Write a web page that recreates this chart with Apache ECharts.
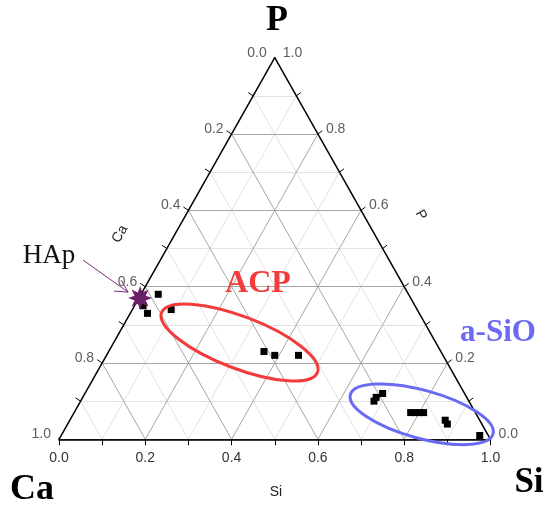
<!DOCTYPE html>
<html>
<head>
<meta charset="UTF-8">
<title></title>
<script src="https://cdn.jsdelivr.net/npm/echarts@6/dist/echarts.min.js"></script>
<style>
html,body{margin:0;padding:0;background:#fff;}
#main{width:547px;height:505px;}
</style>
</head>
<body>
<div id="main"></div>
<script>
// composition of the samples (fractions, Ca + P + Si = 1)
var siVals = [0.04, 0.02, 0.04, 0.09, 0.36, 0.39, 0.445, 0.68, 0.68, 0.69, 0.78, 0.79, 0.80, 0.81, 0.87, 0.88, 0.97];
var pVals  = [0.38, 0.35, 0.33, 0.34, 0.23, 0.22, 0.22, 0.10, 0.11, 0.12, 0.07, 0.07, 0.07, 0.07, 0.05, 0.04, 0.01];
var caVals = [0.58, 0.63, 0.63, 0.57, 0.41, 0.39, 0.335, 0.22, 0.21, 0.19, 0.15, 0.14, 0.13, 0.12, 0.08, 0.08, 0.02];
// hydroxyapatite reference point
var hapSi = [0.003];
var hapP = [0.37];
var hapCa = [0.627];
// ticks and grid
var labelTicks = [0, 0.2, 0.4, 0.6, 0.8, 1.0];
var allTicks = [0, 0.1, 0.2, 0.3, 0.4, 0.5, 0.6, 0.7, 0.8, 0.9, 1.0];
var majorGrid = [0.2, 0.4, 0.6, 0.8];
var minorGrid = [0.1, 0.3, 0.5, 0.7, 0.9];

// ternary (Si, P) -> cartesian
function tern(si, p) { return [si + p / 2, p]; }

function gridLines(vals) {
	var out = [];
	for (var i = 0; i < vals.length; i++) {
		var v = vals[i];
		out.push({ coords: [tern(0, v), tern(1 - v, v)] });   // P const
		out.push({ coords: [tern(v, 0), tern(v, 1 - v)] });   // Si const
		out.push({ coords: [tern(1 - v, 0), tern(0, 1 - v)] }); // Ca const
	}
	return out;
}

var GW = 431.5, GH = 381.6;
var ticks = [];
for (var i = 0; i < allTicks.length; i++) {
	var t = allTicks[i];
	var a = tern(0, 1 - t);   // left edge, Ca = t
	ticks.push({ coords: [a, [a[0] - 5 / GW, a[1] + 3.3 / GH]] });
	var b = tern(1 - t, t);   // right edge, P = t
	ticks.push({ coords: [b, [b[0] + 4.4 / GW, b[1] + 3.3 / GH]] });
}

var leftLabels = labelTicks.map(function (c) {
	return { value: tern(0, 1 - c), name: c.toFixed(1) };
});
var rightLabels = labelTicks.map(function (p) {
	return { value: tern(1 - p, p), name: p.toFixed(1) };
});

var points = siVals.map(function (s, i) { return tern(s, pVals[i]); });
var hap = hapSi.map(function (s, i) { return tern(s, hapP[i]); });

// 8 pointed star
var star = 'path://';
for (var k = 0; k < 16; k++) {
	var ang = Math.PI / 2 + k * Math.PI / 8;
	var r = k % 2 === 0 ? 10 : 5;
	star += (k === 0 ? 'M' : 'L') + (10 + r * Math.cos(ang)).toFixed(2) + ',' + (10 - r * Math.sin(ang)).toFixed(2);
}
star += 'Z';

var myChart = echarts.init(document.getElementById('main'));
var option = {
	animation: false,
	grid: { left: 59, top: 57.7, width: GW, height: GH },
	xAxis: {
		type: 'value', min: 0, max: 1, interval: 0.2,
		splitLine: { show: false },
		axisLine: { show: true, lineStyle: { color: '#000', width: 1.5 } },
		axisTick: { show: true, length: 6, lineStyle: { color: '#000', width: 1 } },
		minorTick: { show: true, splitNumber: 2, length: 6, lineStyle: { color: '#000', width: 1 } },
		axisLabel: {
			margin: 12, fontSize: 14, color: '#333', fontFamily: 'Liberation Sans',
			formatter: function (v) { return v.toFixed(1); }
		}
	},
	yAxis: { type: 'value', min: 0, max: 1, show: false },
	series: [
		{
			type: 'lines', coordinateSystem: 'cartesian2d', silent: true, z: 1,
			lineStyle: { color: '#e2e2e2', width: 1, opacity: 1 },
			data: gridLines(minorGrid)
		},
		{
			type: 'lines', coordinateSystem: 'cartesian2d', silent: true, z: 2,
			lineStyle: { color: '#a6a6a6', width: 1, opacity: 1 },
			data: gridLines(majorGrid)
		},
		{
			type: 'lines', coordinateSystem: 'cartesian2d', silent: true, z: 3,
			lineStyle: { color: '#000', width: 1.5, opacity: 1 },
			data: [
				{ coords: [tern(0, 0), tern(1, 0)] },
				{ coords: [tern(1, 0), tern(0, 1)] },
				{ coords: [tern(0, 1), tern(0, 0)] }
			]
		},
		{
			type: 'lines', coordinateSystem: 'cartesian2d', silent: true, z: 3,
			lineStyle: { color: '#000', width: 1, opacity: 1 },
			data: ticks
		},
		{
			type: 'scatter', symbolSize: 0, silent: true, z: 4,
			label: { show: true, position: 'left', distance: 8, offset: [0, -5], formatter: '{b}',
				fontSize: 14, color: '#333', fontFamily: 'Liberation Sans' },
			data: leftLabels
		},
		{
			type: 'scatter', symbolSize: 0, silent: true, z: 4,
			label: { show: true, position: 'right', distance: 8, offset: [0, -5], formatter: '{b}',
				fontSize: 14, color: '#333', fontFamily: 'Liberation Sans' },
			data: rightLabels
		},
		{
			type: 'scatter', symbol: 'rect', symbolSize: 7, z: 6,
			itemStyle: { color: '#000', opacity: 1 },
			data: points
		},
		{
			type: 'scatter', symbol: star, symbolSize: 24, z: 7,
			itemStyle: { color: '#6a2068', opacity: 1 },
			data: hap
		}
	]
};
myChart.setOption(option);

// annotations
var red = myChart.convertToPixel({ gridIndex: 0 }, tern(0.2915, 0.2537));
var blue = myChart.convertToPixel({ gridIndex: 0 }, tern(0.8078, 0.0655));
var st = myChart.convertToPixel({ gridIndex: 0 }, hap[0]);
var ax = st[0] - 12, ay = st[1] - 6;
var deg = Math.PI / 180;
var serif = '"Liberation Serif", "Times New Roman", serif';
myChart.setOption({
	graphic: [
		{ type: 'ellipse', x: red[0], y: red[1], rotation: -21 * deg, z: 100,
			shape: { cx: 0, cy: 0, rx: 83.5, ry: 26 },
			style: { fill: 'none', stroke: '#f23b3b', lineWidth: 3 } },
		{ type: 'ellipse', x: blue[0], y: blue[1], rotation: -15.4 * deg, z: 100,
			shape: { cx: 0, cy: 0, rx: 74, ry: 24 },
			style: { fill: 'none', stroke: '#6a6af2', lineWidth: 3 } },
		{ type: 'polyline', z: 100,
			shape: { points: [[ax - 45, ay - 32], [ax, ay]] },
			style: { stroke: '#7a2c78', lineWidth: 1, fill: 'none' } },
		{ type: 'polyline', z: 100,
			shape: { points: [[ax - 14, ay - 1], [ax, ay], [ax - 7, ay - 12]] },
			style: { stroke: '#7a2c78', lineWidth: 1, fill: 'none' } },
		{ type: 'text', x: 49, y: 256, z: 100,
			style: { text: 'HAp', font: 'normal 27px ' + serif, fill: '#111', align: 'center', verticalAlign: 'middle' } },
		{ type: 'text', x: 258, y: 284, z: 100,
			style: { text: 'ACP', font: 'bold 32px ' + serif, fill: '#f23b3b', align: 'center', verticalAlign: 'middle' } },
		{ type: 'text', x: 498, y: 333, z: 100,
			style: { text: 'a-SiO', font: 'bold 31px ' + serif, fill: '#6a6af2', align: 'center', verticalAlign: 'middle' } },
		{ type: 'text', x: 277, y: 21, z: 100,
			style: { text: 'P', font: 'bold 36px ' + serif, fill: '#000', align: 'center', verticalAlign: 'middle' } },
		{ type: 'text', x: 32, y: 490, z: 100,
			style: { text: 'Ca', font: 'bold 36px ' + serif, fill: '#000', align: 'center', verticalAlign: 'middle' } },
		{ type: 'text', x: 529, y: 483, z: 100,
			style: { text: 'Si', font: 'bold 35px ' + serif, fill: '#000', align: 'center', verticalAlign: 'middle' } },
		{ type: 'text', x: 120, y: 234, rotation: 60 * deg, z: 100,
			style: { text: 'Ca', font: '14px "Liberation Sans"', fill: '#222', align: 'center', verticalAlign: 'middle' } },
		{ type: 'text', x: 421, y: 215, rotation: -60 * deg, z: 100,
			style: { text: 'P', font: '14px "Liberation Sans"', fill: '#222', align: 'center', verticalAlign: 'middle' } },
		{ type: 'text', x: 276, y: 492, z: 100,
			style: { text: 'Si', font: '14px "Liberation Sans"', fill: '#222', align: 'center', verticalAlign: 'middle' } }
	]
});
</script>
</body>
</html>
